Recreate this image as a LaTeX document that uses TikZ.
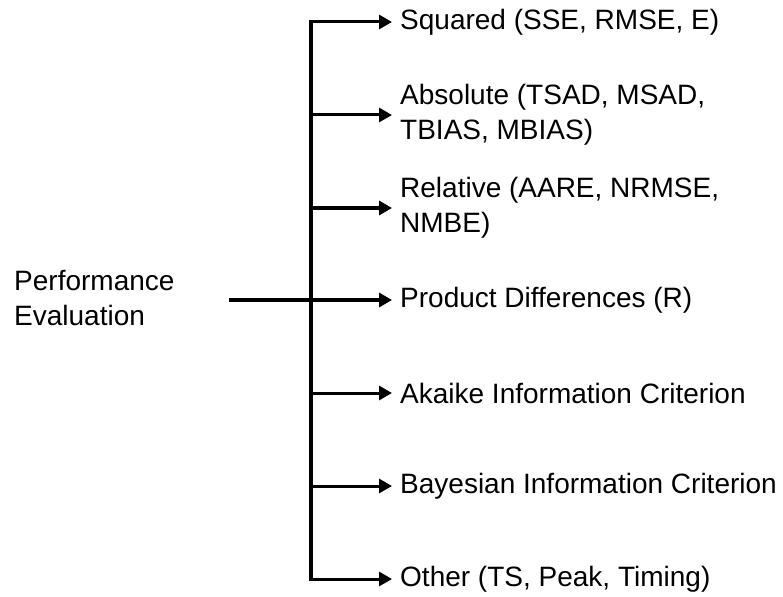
\documentclass[tikz,border=0pt]{standalone}
\usepackage{fontspec}
\setmainfont{Liberation Sans}
\usetikzlibrary{arrows.meta}
\begin{document}
\begin{tikzpicture}[x=1pt,y=-1pt,
  lbl/.style={anchor=west,inner xsep=8pt,inner ysep=0pt,align=left,
    font=\fontsize{28}{35}\selectfont},
  br/.style={line width=3pt,-{Triangle[length=13pt,width=14pt]}},
  thick br/.style={br,line width=4.5pt},
  trunk/.style={line width=4pt,line cap=rect}]
\useasboundingbox (0,0) rectangle (783,596);
% labels
\node[lbl] (sq) at (392,22) {Squared (SSE, RMSE, E)};
\node[lbl] (ab) at (392,115) {Absolute (TSAD, MSAD,\\TBIAS, MBIAS)};
\node[lbl] (re) at (392,208) {Relative (AARE, NRMSE,\\NMBE)};
\node[lbl] (pd) at (392,300) {Product Differences (R)};
\node[lbl] (ak) at (392,393) {Akaike Information Criterion};
\node[lbl] (ba) at (392,486) {Bayesian Information Criterion};
\node[lbl] (ot) at (392,579) {Other (TS, Peak, Timing)};
\node[lbl,inner xsep=0pt] (pe) at (14,298) {Performance\\Evaluation};
% trunk coordinates
\coordinate (t1) at (311,22);
\coordinate (t2) at (311,115);
\coordinate (t3) at (311,208);
\coordinate (t5) at (311,393);
\coordinate (t6) at (311,486);
\coordinate (t7) at (311,579);
\coordinate (in) at (229,300);
% connectors
\draw[trunk] (t1) -- (t7);
\draw[br] (t1) -- (sq.west);
\draw[br] (t2) -- (ab.west);
\draw[thick br] (t3) -- (re.west);
\draw[thick br] (in) -- (pd.west);
\draw[br] (t5) -- (ak.west);
\draw[br] (t6) -- (ba.west);
\draw[br] (t7) -- (ot.west);
\end{tikzpicture}
\end{document}
